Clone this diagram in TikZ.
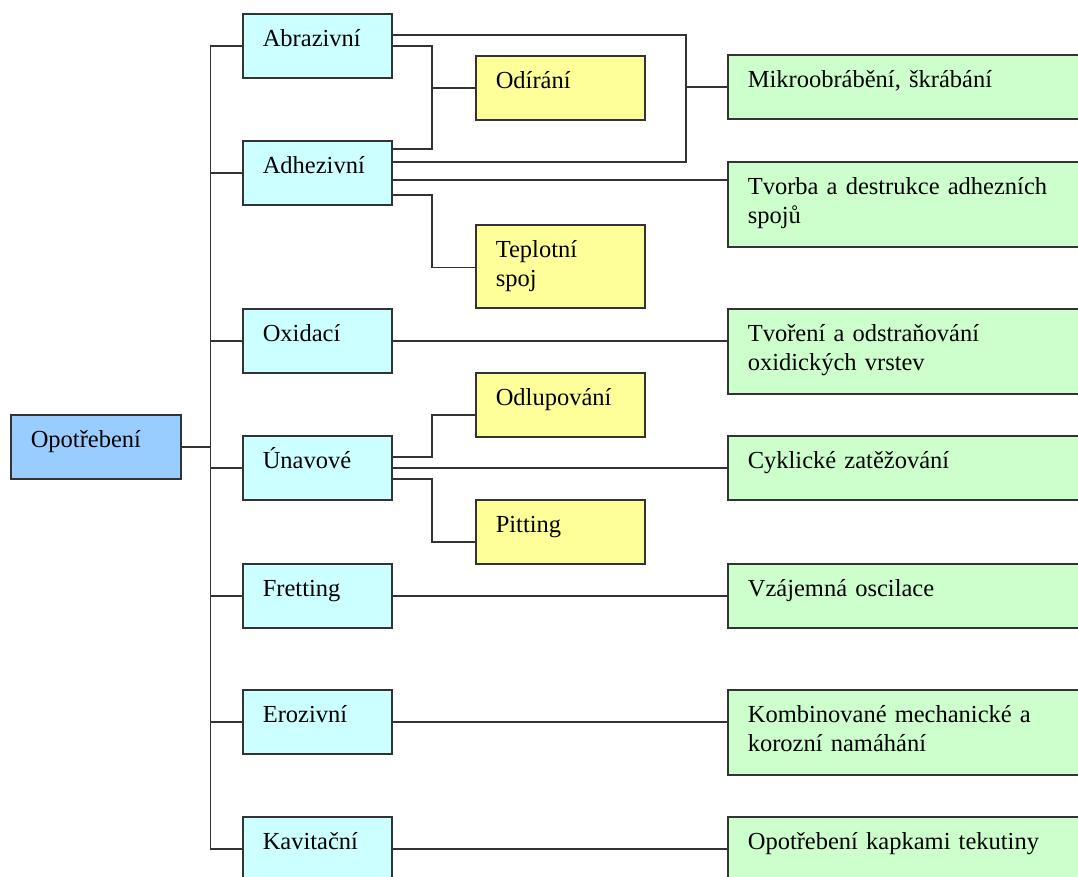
\documentclass[tikz,border=0pt]{standalone}
\usepackage{fontspec}
\setmainfont{Liberation Serif}
\usepackage{tikz}
\usetikzlibrary{calc}
\definecolor{rootblue}{HTML}{99CCFF}
\definecolor{kindcyan}{HTML}{CCFFFF}
\definecolor{subyellow}{HTML}{FFFF99}
\definecolor{causegreen}{HTML}{CCFFCC}
\definecolor{edgegray}{HTML}{333333}

\begin{document}
\begin{tikzpicture}[x=1pt,y=-1pt,
    font=\fontsize{24.5}{29}\selectfont,
    box/.style={draw=edgegray, line width=1.6pt, anchor=north west, align=left,
      inner xsep=20pt, inner ysep=0pt, text height=33pt, text depth=31pt},
    tall/.style={text depth=52pt},
    root/.style={box, fill=rootblue, text width=130pt},
    kind/.style={box, fill=kindcyan, text width=109pt},
    sub/.style={box, fill=subyellow, text width=129pt},
    cause/.style={box, fill=causegreen, text width=323pt},
    link/.style={draw=edgegray, line width=1.6pt}]
      \useasboundingbox (0,0) rectangle (1078,876);
      % druh opotrebeni
      \node[root] (opo) at (10,414) {Opotřebení};
      \node[kind] (abr) at (242,13)  {Abrazivní};
      \node[kind] (adh) at (242,140) {Adhezivní};
      \node[kind] (oxi) at (242,308) {Oxidací};
      \node[kind] (una) at (242,435) {Únavové};
      \node[kind] (fre) at (242,563) {Fretting};
      \node[kind] (ero) at (242,689) {Erozivní};
      \node[kind] (kav) at (242,816) {Kavitační};
      % projevy
      \node[sub] (odi) at (475,55)  {Odírání};
      \node[sub,text depth=50pt] (tep) at (475,224) {Teplotní\\spoj};
      \node[sub] (odl) at (475,372) {Odlupování};
      \node[sub] (pit) at (475,499) {Pitting};
      % mechanismy
      \node[cause] (mik) at (727,54)  {Mikroobrábění, škrábání};
      \node[cause,tall] (tvb) at (727,161) {Tvorba a destrukce adhezních\\spojů};
      \node[cause,tall] (tvr) at (727,308) {Tvoření a odstraňování\\oxidických vrstev};
      \node[cause] (cyk) at (727,435) {Cyklické zatěžování};
      \node[cause] (vza) at (727,563) {Vzájemná oscilace};
      \node[cause,tall] (kom) at (727,689) {Kombinované mechanické a\\korozní namáhání};
      \node[cause] (opk) at (727,816) {Opotřebení kapkami tekutiny};
      % kmen
      \coordinate (trunk) at ([xshift=29pt]opo.east);
      \draw[link] (opo.east) -- (trunk);
      \foreach \k in {abr,adh,oxi,una,fre,ero,kav}
        \draw[link] (\k.west) -| (trunk);
      % vetve
      \draw[link] ([yshift=11pt]abr.east) -| ([xshift=-41pt]mik.west) |- ([yshift=11pt]adh.east);
      \draw[link] ([xshift=-41pt]mik.west) -- (mik.west);
      \draw[link] (abr.east) -| ([xshift=-43pt]odi.west) |- ([yshift=24pt]adh.east);
      \draw[link] ([xshift=-43pt]odi.west) -- (odi.west);
      \draw[link] ([yshift=-7pt]adh.east) -- ([yshift=-7pt]adh.east -| tvb.west);
      \draw[link] ([yshift=-22pt]adh.east) -| ([xshift=-43pt,yshift=-1pt]tep.west) -- ([yshift=-1pt]tep.west);
      \draw[link] ([yshift=11pt]una.east) -| ([xshift=-43pt,yshift=-10pt]odl.west) -- ([yshift=-10pt]odl.west);
      \draw[link] (una.east) -- (cyk.west);
      \draw[link] ([yshift=-11pt]una.east) -| ([xshift=-43pt,yshift=-10pt]pit.west) -- ([yshift=-10pt]pit.west);
      \foreach \a/\b in {oxi/tvr,fre/vza,ero/kom,kav/opk}
        \draw[link] (\a.east) -- (\a.east -| \b.west);
    \end{tikzpicture}
\end{document}
